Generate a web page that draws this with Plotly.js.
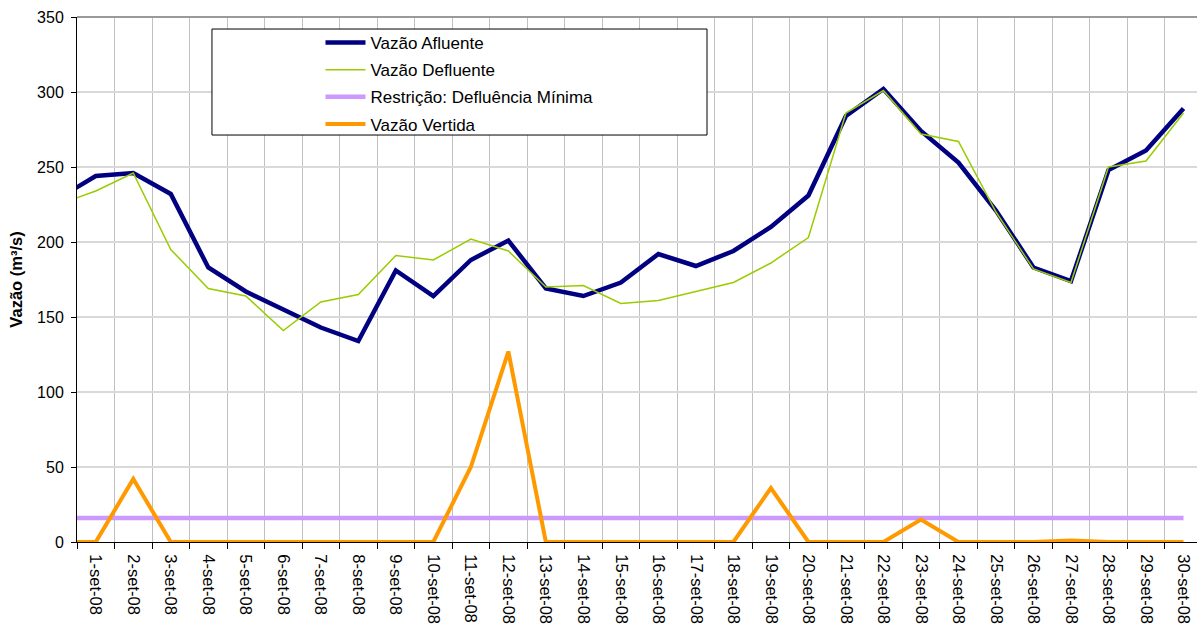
<!DOCTYPE html>
<html>
<head>
<meta charset="utf-8">
<script src="https://cdn.plot.ly/plotly-3.0.1.min.js"></script>
<style>html,body{margin:0;padding:0;background:#fff;}#chart{width:1197px;height:626px;}</style>
</head>
<body>
<div id="chart"></div>
<script>
// Day index (0 = 31-ago-08, only its line segment entering the plot is visible)
const dias = [0,1,2,3,4,5,6,7,8,9,10,11,12,13,14,15,16,17,18,19,20,21,22,23,24,25,26,27,28,29,30];
const rotulos = ['31-ago-08','1-set-08','2-set-08','3-set-08','4-set-08','5-set-08','6-set-08','7-set-08','8-set-08','9-set-08','10-set-08',
  '11-set-08','12-set-08','13-set-08','14-set-08','15-set-08','16-set-08','17-set-08','18-set-08','19-set-08','20-set-08',
  '21-set-08','22-set-08','23-set-08','24-set-08','25-set-08','26-set-08','27-set-08','28-set-08','29-set-08','30-set-08'];
const vazaoAfluente = [229,244,246,232,183,167,155,143,134,181,164,188,201,169,164,173,192,184,194,210,231,284,302,274,253,221,183,174,248,261,289];
const vazaoDefluente = [225,234,246,195,169,164,141,160,165,191,188,202,194,170,171,159,161,167,173,186,203,286,301,272,267,220,182,173,250,254,286];
const defluenciaMinima = [16,16,16,16,16,16,16,16,16,16,16,16,16,16,16,16,16,16,16,16,16,16,16,16,16,16,16,16,16,16,16];
const vazaoVertida = [0,0,42,0,0,0,0,0,0,0,0,50,127,0,0,0,0,0,0,36,0,0,0,15,0,0,0,1,0,0,0];
const yTicks = [0,50,100,150,200,250,300,350];

const traces = [
  {x: dias, y: vazaoAfluente, name: 'Vazão Afluente', mode: 'lines', line: {color: '#000080', width: 4.5}, legendgroup: 'a'},
  {x: dias, y: vazaoDefluente, name: 'Vazão Defluente', mode: 'lines', line: {color: '#99cc00', width: 1.5}, legendgroup: 'b'},
  {x: dias, y: defluenciaMinima, name: 'Restrição: Defluência Mínima', mode: 'lines', line: {color: '#cc99ff', width: 4.5}, legendgroup: 'c'},
  {x: dias, y: vazaoVertida, name: 'Vazão Vertida', mode: 'lines', line: {color: '#ff9900', width: 4}, legendgroup: 'd'}
];

const layout = {
  width: 1197, height: 626,
  margin: {l: 77, r: 0, t: 17, b: 84, pad: 0},
  paper_bgcolor: '#ffffff', plot_bgcolor: '#ffffff',
  font: {family: 'Liberation Sans, Arial, sans-serif', size: 16, color: '#000'},
  showlegend: true,
  legend: {
    x: 0.2174, y: 0.985, xanchor: 'left', yanchor: 'top',
    bgcolor: 'rgba(0,0,0,0)', borderwidth: 0,
    font: {size: 17, color: '#000'},
    tracegroupgap: 2.1, traceorder: 'grouped', itemwidth: 40
  },
  xaxis: {
    range: [0.5, 30.36],
    tickmode: 'array', tickvals: dias.slice(1), ticktext: rotulos.slice(1),
    tickangle: 90, ticks: '', showgrid: false, zeroline: false,
    showline: true, linecolor: '#000', linewidth: 1,
    tickfont: {size: 16.5, color: '#000'}, ticklabelstandoff: 8,
    minor: {tickmode: 'linear', tick0: 0.5, dtick: 1, ticks: 'outside', ticklen: 6, tickcolor: '#000',
            showgrid: true, gridcolor: '#c0c0c0', gridwidth: 1}
  },
  yaxis: {
    range: [0, 350], tickmode: 'array', tickvals: yTicks,
    ticks: 'outside', ticklen: 5, tickcolor: '#000',
    showgrid: true, gridcolor: '#d9d9d9', gridwidth: 1.5, zeroline: false,
    showline: true, linecolor: '#000', linewidth: 1,
    tickfont: {size: 16, color: '#000'}, ticklabelstandoff: 4,
    title: {text: 'Vazão (m³/s)', font: {size: 16.5, color: '#000', family: 'Liberation Sans, Arial, sans-serif', weight: 'bold'}, standoff: 10}
  },
  shapes: [
    {type: 'line', xref: 'paper', yref: 'paper', x0: 0, x1: 1, y0: 1, y1: 1, line: {color: '#999999', width: 2}},
    {type: 'rect', xref: 'paper', yref: 'paper', x0: 0.1205, x1: 0.5625, y0: 0.7752, y1: 0.9771,
     line: {color: '#000', width: 1}, fillcolor: '#ffffff', layer: 'above'}
  ]
};

Plotly.newPlot('chart', traces, layout, {staticPlot: true, displayModeBar: false});
</script>
</body>
</html>
